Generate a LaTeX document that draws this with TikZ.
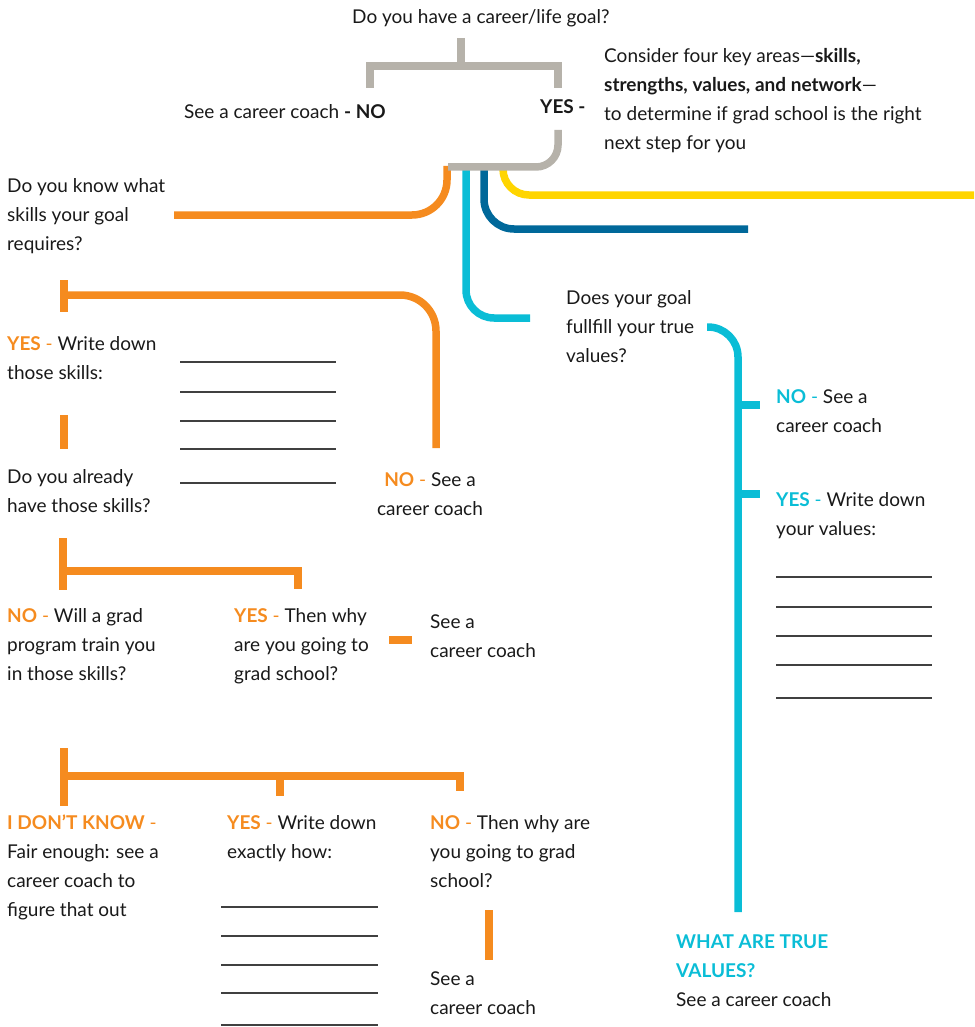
\documentclass[tikz,border=0pt]{standalone}
\usepackage{fontspec}
\setmainfont{Lato}
\usetikzlibrary{positioning}
\definecolor{coachorange}{HTML}{F58B1F}
\definecolor{coachcyan}{HTML}{0ABDD6}
\definecolor{coachblue}{HTML}{00689A}
\definecolor{coachyellow}{HTML}{FFD500}
\definecolor{coachgrey}{HTML}{B6B2AA}
\tikzset{
  txt/.style={anchor=base west, inner sep=0pt, align=left, text=black!90,
    font=\fontsize{19}{29}\selectfont},
  bar/.style={line width=7.5pt, line join=miter},
  ruling/.style={line width=1.3pt, draw=black!75},
}
% multi-line nodes sit on the baseline of their last line
\newcommand{\ans}[2]{\textbf{\textcolor{#1}{#2}} \textcolor{#1}{-}}

\begin{document}
\begin{tikzpicture}[x=1pt, y=-1pt]
        \useasboundingbox (0,0) rectangle (974,1027);

        % top question and the four key areas
        \node [txt] (goal) at (352,24) {Do you have a career/life goal?};
        \node [txt, anchor=base east] (nocoach) at (386,119) {See a career coach \textbf{- NO}};
        \node [txt] (yesgoal) at (540,114) {\textbf{YES -}};
        \node [txt] (areas) at (604,150) {Consider four key areas---\textbf{skills,}\\
          \textbf{strengths, values, and network}---\\
          to determine if grad school is the right\\
          next step for you};

        \draw [bar, coachyellow, rounded corners=26pt] (503,166) -- (503,195) -- (974,195);
        \draw [bar, coachblue, rounded corners=30pt] (484,166) -- (484,229) -- (748,229);
        \draw [bar, coachcyan, rounded corners=28pt] (466,166) -- (466,318) -- (530,318);
        \draw [bar, coachorange, rounded corners=35pt] (447,166) -- (447,215) -- (174,215);

        \draw [bar, coachgrey] (461,38) -- (461,66);
        \draw [bar, coachgrey] (370,88) -- (370,66) -- (558,66) -- (558,88);
        \draw [bar, coachgrey, rounded corners=22pt] (558,130) -- (558,167) -- (448,167);

        % skills
        \node [txt] (skills) at (7,250) {Do you know what\\ skills your goal\\ requires?};
        \draw [bar, coachorange] (64,280) -- (64,312);
        \draw [bar, coachorange, rounded corners=36pt] (64,295) -- (436,295) -- (436,448);
        \node [txt] (writeskills) at (7,379) {\ans{coachorange}{YES} Write down\\ those skills:};
        \foreach \y in {362,392,421,449,483}
          \draw [ruling] (180,\y) -- (336,\y);
        \node [txt, anchor=base, align=center] (noskills) at (430,515) {\ans{coachorange}{NO} See a\\ career coach};
        \draw [bar, coachorange] (64,415) -- (64,449);
        \node [txt] (already) at (7,512) {Do you already\\ have those skills?};

        \draw [bar, coachorange] (63,538) -- (63,590);
        \draw [bar, coachorange] (63,571) -- (298,571) -- (298,589);
        \node [txt] (train) at (7,680) {\ans{coachorange}{NO} Will a grad\\ program train you\\ in those skills?};
        \node [txt] (whyyes) at (234,680) {\ans{coachorange}{YES} Then why\\ are you going to\\ grad school?};
        \draw [bar, coachorange] (389,640) -- (412,640);
        \node [txt] (coachtwo) at (430,657) {See a\\ career coach};

        \draw [bar, coachorange] (64,748) -- (64,806);
        \draw [bar, coachorange] (64,776) -- (460,776) -- (460,791);
        \draw [bar, coachorange] (280,776) -- (280,796);
        \node [txt] (dontknow) at (7,916) {\ans{coachorange}{I DON'T KNOW}\\ Fair enough: see a\\ career coach to\\ figure that out};
        \node [txt] (exactly) at (227,858) {\ans{coachorange}{YES} Write down\\ exactly how:};
        \foreach \y in {907,936,965,993,1025}
          \draw [ruling] (221,\y) -- (378,\y);
        \node [txt] (whyno) at (430,887) {\ans{coachorange}{NO} Then why are\\ you going to grad\\ school?};
        \draw [bar, coachorange] (489,910) -- (489,960);
        \node [txt] (coachthree) at (430,1014) {See a\\ career coach};

        % values
        \node [txt] (values) at (566,362) {Does your goal\\ fullfill your true\\ values?};
        \draw [bar, coachcyan, rounded corners=30pt] (707,327) -- (738,327) -- (738,912);
        \draw [bar, coachcyan] (738,405) -- (760,405);
        \draw [bar, coachcyan] (738,494) -- (760,494);
        \node [txt] (novalues) at (776,432) {\ans{coachcyan}{NO} See a\\ career coach};
        \node [txt] (yesvalues) at (776,535) {\ans{coachcyan}{YES} Write down\\ your values:};
        \foreach \y in {577,607,636,665,698}
          \draw [ruling] (776,\y) -- (932,\y);
        \node [txt] (truevalues) at (676,1006) {\textcolor{coachcyan}{\textbf{WHAT ARE TRUE}}\\
          \textcolor{coachcyan}{\textbf{VALUES?}}\\ See a career coach};
\end{tikzpicture}
\end{document}
